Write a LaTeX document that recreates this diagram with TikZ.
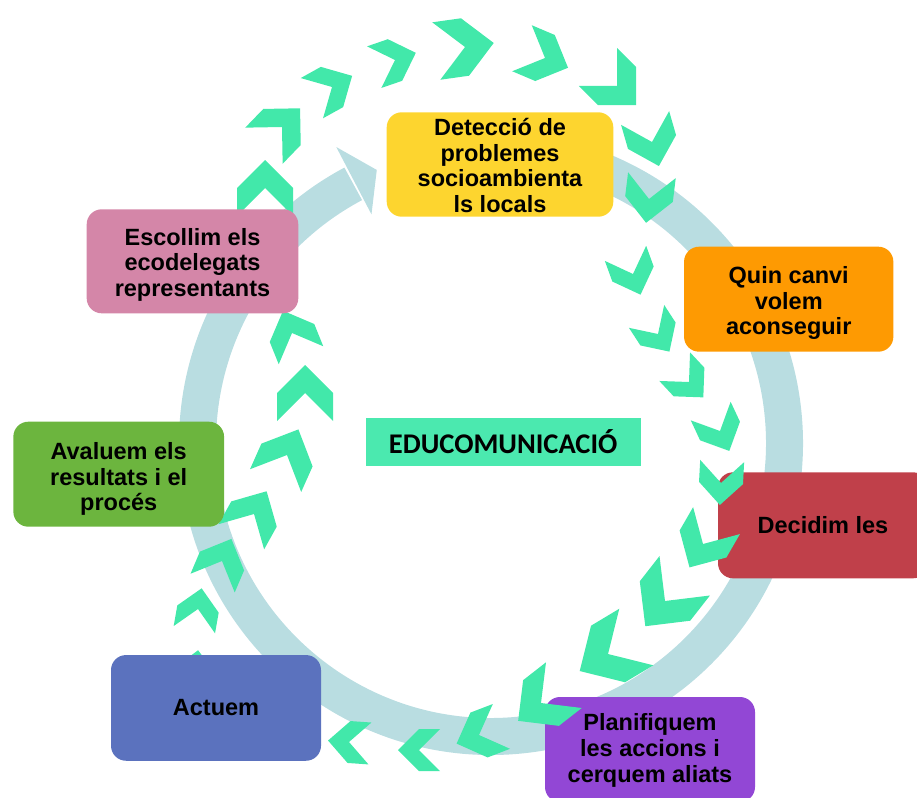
\documentclass[tikz,border=0pt]{standalone}
\usepackage{fontspec}
\setmainfont{Liberation Sans}
\newfontfamily\carlito{Carlito}
\definecolor{mint}{HTML}{42E8AA}
\definecolor{mintbox}{HTML}{4BE9AF}
\definecolor{ringc}{HTML}{B9DDE1}
\definecolor{cyellow}{HTML}{FDD52F}
\definecolor{corange}{HTML}{FE9A02}
\definecolor{cred}{HTML}{C0404A}
\definecolor{cpurple}{HTML}{9247D5}
\definecolor{cblue}{HTML}{5B72BE}
\definecolor{cgreen}{HTML}{6CB53E}
\definecolor{cpink}{HTML}{D486A8}
\newcommand\chevr[4]{\fill[chev, shift={(#1,#2)}, rotate=#3, scale=#4] (-1,1)--(0,1)--(1,0)--(0,-1)--(-1,-1)--(0,0)--cycle;}
\newcommand\boxtext[4]{\parbox[c][#2pt][c]{#1pt}{\centering\vspace*{#3pt}#4}}
\begin{document}
\begin{tikzpicture}[x=1pt,y=-1pt,
  chev/.style={fill=mint, draw=none},
  ringline/.style={draw=ringc, line width=37pt, line cap=butt},
  stepbox/.style={rounded corners=15pt, inner sep=0pt, draw=none, text=black,
    font=\bfseries\fontsize{23.5pt}{25.6pt}\selectfont},
  titlebox/.style={fill=mintbox, inner sep=0pt, minimum width=275pt, minimum height=47.4pt,
    font=\carlito\bfseries\fontsize{28.5pt}{30pt}\selectfont}
]
\useasboundingbox (0,0) rectangle (917,797);
\clip (0,0) rectangle (917,797);
\coordinate (c) at (491,443);
% ring with arrow head
\draw[ringline] ([shift={(-95:293.5)}]c) arc[start angle=-95, end angle=242, radius=293.5];
\fill[ringc] ([shift={(-117.6:334)}]c) -- ([shift={(-112.7:296)}]c) -- ([shift={(-117.6:258)}]c) -- cycle;
% chevrons (under boxes)
\chevr{195}{672}{82}{22}
\chevr{198}{609}{80}{21}
\chevr{222}{561}{67}{24}
\chevr{254}{514}{61}{26}
\chevr{287}{455}{66}{28}
\chevr{305}{393}{90}{28}
\chevr{292}{333}{112}{24}
\chevr{265}{188}{90}{28}
\chevr{282}{127}{46}{26}
\chevr{332}{87}{29}{23}
\chevr{395}{60}{19}{22}
\chevr{465}{47}{8}{29}
\chevr{545}{58}{-23}{25}
\chevr{617}{86}{-45}{27}
\chevr{652}{142}{-74}{25}
\chevr{649}{199}{-97}{24}
\chevr{633}{274}{-70}{22}
\chevr{658}{334}{-57}{21}
\chevr{689}{382}{-47}{21}
\chevr{720}{431}{-65}{22}
\chevr{665}{601}{-128}{32}
\chevr{608}{654}{-149}{33}
\chevr{479}{735}{-159}{24}
\chevr{419}{750}{180}{21}
\chevr{349}{742}{176}{21}
% boxes
\node[stepbox, fill=cyellow] (detect) at (500,164.5) {\boxtext{226.6}{104.4}{2}{Detecció de\\problemes\\socioambienta\\ls locals}};
\node[stepbox, fill=corange] (canvi) at (788.7,299.2) {\boxtext{209.3}{105}{8}{Quin canvi\\volem\\aconseguir}};
\node[stepbox, fill=cred] (decidim) at (823,525.3) {\boxtext{210}{106}{0}{Decidim les}};
\node[stepbox, fill=cpurple] (planif) at (650,749.5) {\boxtext{210}{105}{2}{Planifiquem\\les accions i\\cerquem aliats}};
\node[stepbox, fill=cblue] (actuem) at (216,707.9) {\boxtext{210}{105.7}{0}{Actuem}};
\node[stepbox, fill=cgreen] (avaluem) at (118.7,474.2) {\boxtext{210.7}{105}{10}{Avaluem els\\resultats i el\\procés}};
\node[stepbox, fill=cpink] (escollim) at (192.5,261.3) {\boxtext{211.6}{104}{7}{Escollim els\\ecodelegats\\representants}};
\node[titlebox] (educ) at (503.2,442) {EDUCOMUNICACIÓ};
% chevrons over boxes
\chevr{721}{483}{-93}{22}
\chevr{703}{544}{-120}{27}
\chevr{541}{703}{-142}{29}
\end{tikzpicture}
\end{document}
